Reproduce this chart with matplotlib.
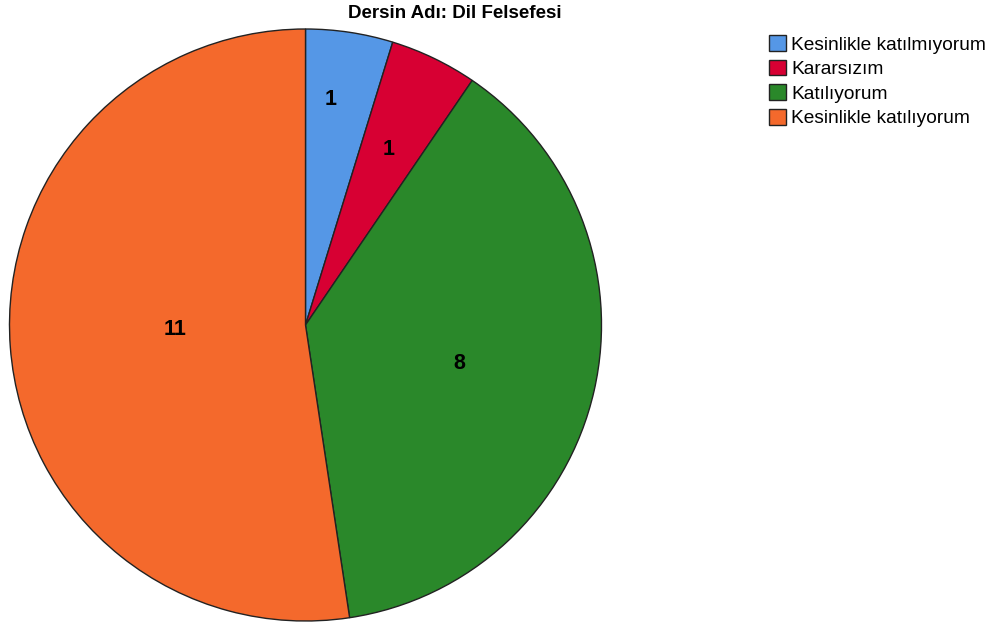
import matplotlib
matplotlib.use("Agg")
import matplotlib.pyplot as plt
import numpy as np

categories = ["Kesinlikle katılmıyorum", "Kararsızım", "Katılıyorum", "Kesinlikle katılıyorum"]
values = [1, 1, 8, 11]
colors = ["#5597E6", "#D70033", "#2A882A", "#F4692C"]
title = "Dersin Adı: Dil Felsefesi"
label_frac = [0.772, 0.664, 0.533, 0.441]
label_ang_off = [2.2, 0.6, -0.7, -3.0]

fig = plt.figure(figsize=(9.96, 6.23), dpi=100)
W, H = 996, 623
cx, cy, r = 305.5, 325, 296
ax = fig.add_axes([(cx - r) / W, (H - cy - r) / H, 2 * r / W, 2 * r / H])
wedges, _ = ax.pie(values, colors=colors, startangle=90, counterclock=False,
                   radius=1, wedgeprops=dict(edgecolor="#222222", linewidth=1.0))
ax.set_xlim(-1, 1)
ax.set_ylim(-1, 1)
ax.set_aspect("equal")
ax.axis("off")

for w, v, f, off in zip(wedges, values, label_frac, label_ang_off):
    ang = np.deg2rad((w.theta1 + w.theta2) / 2 + off)
    ax.text(f * np.cos(ang), f * np.sin(ang) - 2 / r, str(v), ha="center", va="center",
            fontsize=15.5, fontweight="bold", family=["Liberation Sans", "DejaVu Sans"])

fig.text(455 / W, 1 - 13 / H, title, ha="center", va="center", fontsize=13.5,
         fontweight="bold", family=["Liberation Sans", "DejaVu Sans"])

leg = fig.legend(wedges, categories, loc="upper left", bbox_to_anchor=(769 / W, 1 - 35 / H),
                 frameon=False, prop=dict(family=["Liberation Sans", "DejaVu Sans"], size=13.75),
                 handlelength=0.9, handleheight=0.9, handletextpad=0.26, labelspacing=0.32,
                 borderaxespad=0, borderpad=0)

fig.savefig("out.png", dpi=100)
